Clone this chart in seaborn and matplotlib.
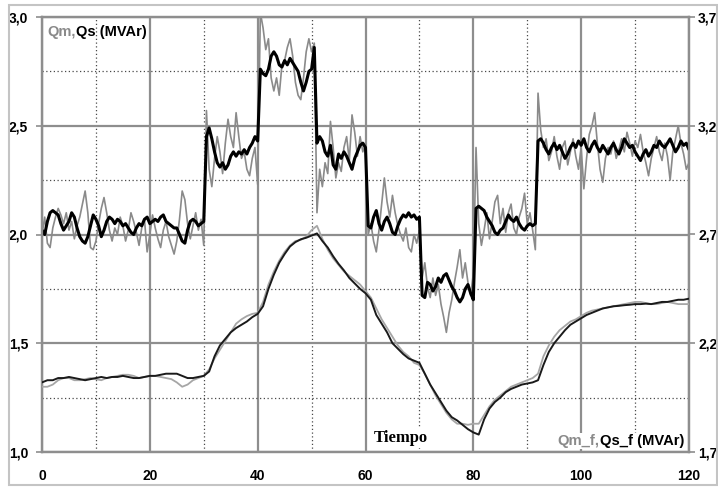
import numpy as np
import pandas as pd
import matplotlib
matplotlib.use("Agg")
import matplotlib.pyplot as plt
from matplotlib.patches import Rectangle
import seaborn as sns

# ---- data -------------------------------------------------------------
# fast signals sampled every 0.5 s (left axis, MVAr)
t_fast = np.arange(0, 120.5, 0.5)

qs = [
    2.02, 2.00, 2.06, 2.10, 2.11, 2.10, 2.09, 2.05, 2.02, 2.04,
    2.06, 2.10, 2.08, 2.03, 1.99, 1.97, 1.96, 1.99, 2.04, 2.09,
    2.07, 2.04, 1.99, 2.02, 2.06, 2.08, 2.07, 2.05, 2.07, 2.06,
    2.04, 2.05, 2.03, 2.01, 2.00, 2.03, 2.05, 2.04, 2.07, 2.08,
    2.05, 2.06, 2.07, 2.06, 2.08, 2.09, 2.06, 2.05, 2.04, 2.03,
    2.03, 2.00, 1.97, 1.96, 2.02, 2.06, 2.07, 2.06, 2.04, 2.05,
    2.06,
    2.45, 2.49, 2.44, 2.38, 2.33, 2.31, 2.33, 2.30, 2.32, 2.36,
    2.38, 2.36, 2.38, 2.37, 2.39, 2.37, 2.40, 2.42, 2.45, 2.43,
    2.76, 2.74, 2.73, 2.76, 2.82, 2.84, 2.82, 2.78, 2.77, 2.80,
    2.78, 2.81, 2.79, 2.77, 2.75, 2.70, 2.66, 2.70, 2.75, 2.76,
    2.86,
    2.42, 2.45, 2.43, 2.38, 2.36, 2.41, 2.32, 2.30, 2.37, 2.35,
    2.38, 2.36, 2.33, 2.30, 2.35, 2.38, 2.41, 2.42, 2.40,
    2.04, 2.03, 2.08, 2.11, 2.05, 2.02, 2.06, 2.08, 2.05, 2.01,
    2.00, 2.04, 2.07, 2.09, 2.08, 2.10, 2.08, 2.09, 2.07, 2.08,
    1.72, 1.71, 1.78, 1.77, 1.74, 1.76, 1.80, 1.78, 1.81, 1.82,
    1.79, 1.76, 1.74, 1.71, 1.69, 1.71, 1.75, 1.77, 1.73, 1.70,
    2.12, 2.13, 2.12, 2.11, 2.08, 2.06, 2.04, 2.01, 2.00, 2.02,
    2.03, 2.06, 2.09, 2.07, 2.06, 2.08, 2.05, 2.03, 2.02, 2.04,
    2.05, 2.04, 2.05,
    2.43, 2.44, 2.42, 2.39, 2.37, 2.40, 2.42, 2.39, 2.41, 2.38,
    2.35, 2.37, 2.40, 2.42, 2.40, 2.43, 2.41, 2.44, 2.40, 2.38,
    2.41, 2.43, 2.40, 2.38, 2.41, 2.39, 2.37, 2.40, 2.42, 2.39,
    2.37, 2.40, 2.44, 2.42, 2.40, 2.41, 2.38, 2.36, 2.34, 2.37,
    2.39, 2.36, 2.38, 2.41, 2.40, 2.43, 2.41, 2.40, 2.42, 2.44,
    2.41, 2.38, 2.40, 2.43, 2.41, 2.42, 2.39,
]

qm = [
    2.00, 2.08, 1.96, 1.94, 2.03, 2.08, 2.12, 2.09, 2.05, 2.10,
    2.02, 2.06, 1.98, 2.04, 2.08, 2.14, 2.20, 2.10, 1.94, 1.93,
    1.97, 2.05, 2.12, 2.17, 2.10, 2.02, 1.97, 2.03, 2.00, 2.08,
    2.04, 1.97, 2.02, 2.10, 2.06, 2.01, 1.95, 2.03, 2.07, 1.92,
    2.00, 2.09, 2.03, 1.98, 1.94, 2.02, 2.06, 1.99, 1.95, 1.91,
    1.97, 2.07, 2.20, 2.16, 2.05, 1.98, 2.04, 2.10, 2.02, 2.07,
    1.95,
    2.57, 2.30, 2.22, 2.35, 2.45, 2.38, 2.28, 2.42, 2.53, 2.45,
    2.40, 2.56, 2.45, 2.35, 2.38, 2.30, 2.27, 2.35, 2.40, 2.23,
    3.02, 2.95, 2.85, 2.90, 2.72, 2.66, 2.72, 2.64, 2.78, 2.80,
    2.86, 2.90, 2.82, 2.70, 2.64, 2.62, 2.72, 2.84, 2.90, 2.84,
    2.88,
    2.10, 2.30, 2.22, 2.33, 2.28, 2.52, 2.40, 2.26, 2.33, 2.29,
    2.40, 2.45, 2.34, 2.55, 2.47, 2.36, 2.45, 2.38, 2.42,
    2.00, 2.05, 1.97, 1.92, 2.02, 2.14, 2.26, 2.15, 2.08, 2.18,
    2.10, 2.04, 2.00, 1.97, 2.03, 1.94, 1.92, 2.00, 1.96, 2.02,
    1.80, 1.87, 1.76, 1.71, 1.80, 1.72, 1.77, 1.68, 1.62, 1.55,
    1.64, 1.70, 1.78, 1.85, 1.93, 1.80, 1.87, 1.78, 1.72, 1.82,
    2.40, 2.05, 1.95, 2.02, 2.10, 1.98, 2.06, 2.15, 2.18, 2.05,
    2.12, 2.01, 2.10, 2.14, 2.03, 2.00, 2.08, 2.12, 2.19, 2.05,
    2.10, 2.02, 1.93,
    2.65, 2.48, 2.40, 2.44, 2.34, 2.38, 2.45, 2.36, 2.30, 2.40,
    2.43, 2.32, 2.38, 2.44, 2.36, 2.30, 2.40, 2.21, 2.35, 2.46,
    2.50, 2.56, 2.42, 2.30, 2.24, 2.35, 2.40, 2.37, 2.43, 2.35,
    2.39, 2.44, 2.38, 2.47, 2.42, 2.36, 2.43, 2.40, 2.46, 2.38,
    2.33, 2.27, 2.35, 2.40, 2.45, 2.38, 2.34, 2.42, 2.36, 2.25,
    2.38, 2.44, 2.50, 2.42, 2.37, 2.30, 2.33,
]

# filtered signals sampled every 1 s (right axis, MVAr)
t_slow = np.arange(0, 121, 1)

qs_f = [
    2.02, 2.03, 2.03, 2.04, 2.04, 2.045, 2.04, 2.035, 2.03, 2.035,
    2.04, 2.045, 2.04, 2.045, 2.045, 2.05, 2.045, 2.04, 2.04, 2.045,
    2.05, 2.05, 2.055, 2.06, 2.06, 2.06, 2.05, 2.04, 2.04, 2.045,
    2.05, 2.07, 2.14, 2.19, 2.22, 2.25, 2.27, 2.285, 2.30, 2.32,
    2.335, 2.37, 2.45, 2.515, 2.57, 2.61, 2.645, 2.665, 2.678, 2.685,
    2.695, 2.705, 2.67, 2.64, 2.60, 2.565, 2.535, 2.50, 2.475, 2.45,
    2.43, 2.40, 2.33, 2.29, 2.25, 2.20, 2.175, 2.15, 2.13, 2.12,
    2.11, 2.06, 2.01, 1.97, 1.93, 1.89, 1.86, 1.845, 1.825, 1.805,
    1.79, 1.78, 1.85, 1.90, 1.93, 1.95, 1.975, 1.99, 2.00, 2.01,
    2.015, 2.02, 2.03, 2.10, 2.16, 2.20, 2.23, 2.26, 2.285, 2.30,
    2.315, 2.33, 2.34, 2.35, 2.36, 2.365, 2.37, 2.372, 2.375, 2.377,
    2.38, 2.38, 2.382, 2.38, 2.385, 2.39, 2.39, 2.395, 2.40, 2.40,
    2.405,
]

qm_f = [
    2.00, 2.00, 2.01, 2.03, 2.04, 2.04, 2.03, 2.03, 2.035, 2.04,
    2.035, 2.03, 2.04, 2.045, 2.05, 2.055, 2.055, 2.05, 2.04, 2.045,
    2.05, 2.05, 2.045, 2.04, 2.035, 2.02, 2.00, 2.01, 2.03, 2.04,
    2.05, 2.08, 2.13, 2.17, 2.21, 2.25, 2.29, 2.31, 2.325, 2.335,
    2.34, 2.39, 2.47, 2.53, 2.58, 2.62, 2.65, 2.67, 2.675, 2.69,
    2.72, 2.74, 2.68, 2.63, 2.59, 2.56, 2.53, 2.51, 2.49, 2.47,
    2.44, 2.41, 2.36, 2.31, 2.27, 2.23, 2.19, 2.16, 2.14, 2.11,
    2.10, 2.06, 2.01, 1.96, 1.92, 1.88, 1.85, 1.83, 1.83, 1.825,
    1.83, 1.83, 1.87, 1.91, 1.94, 1.96, 1.98, 2.00, 2.01, 2.02,
    2.03, 2.04, 2.06, 2.14, 2.19, 2.23, 2.26, 2.28, 2.30, 2.31,
    2.325, 2.34, 2.35, 2.355, 2.36, 2.365, 2.37, 2.375, 2.38, 2.385,
    2.39, 2.39, 2.385, 2.38, 2.38, 2.385, 2.39, 2.385, 2.38, 2.38,
    2.38,
]

x_ticks = [0, 20, 40, 60, 80, 100, 120]
x_minor = [10, 30, 50, 70, 90, 110]
y_left_ticks = [1.0, 1.5, 2.0, 2.5, 3.0]
y_left_labels = ["1,0", "1,5", "2,0", "2,5", "3,0"]
y_left_minor = [1.25, 1.75, 2.25, 2.75]
y_right_ticks = [1.7, 2.2, 2.7, 3.2, 3.7]
y_right_labels = ["1,7", "2,2", "2,7", "3,2", "3,7"]

fast = pd.DataFrame({"t": t_fast, "Qm": qm, "Qs": qs})
slow = pd.DataFrame({"t": t_slow, "Qm_f": qm_f, "Qs_f": qs_f})

# ---- style ------------------------------------------------------------
sns.set_style("white")
plt.rcParams["font.family"] = ["Liberation Sans", "DejaVu Sans"]

GRID = "#8e8e8e"
DOT = "#4a4a4a"

fig = plt.figure(figsize=(7.18, 4.87), dpi=100)
fig.patch.set_facecolor("white")
ax = fig.add_axes([42 / 718, 1 - 452 / 487, (689 - 42) / 718, (452 - 17) / 487])
ax2 = ax.twinx()

# upper group: measured and simulated reactive power
sns.lineplot(data=fast, x="t", y="Qm", ax=ax, color="#8a8a8a", lw=1.2,
             estimator=None, sort=False, zorder=3)
sns.lineplot(data=fast, x="t", y="Qs", ax=ax, color="black", lw=2.2,
             estimator=None, sort=False, zorder=4)

# lower group: filtered signals on the right axis
sns.lineplot(data=slow, x="t", y="Qm_f", ax=ax2, color="#a6a6a6", lw=1.3,
             estimator=None, sort=False, zorder=3)
sns.lineplot(data=slow, x="t", y="Qs_f", ax=ax2, color="#1a1a1a", lw=1.4,
             estimator=None, sort=False, zorder=4)

ax.set_xlim(0, 120)
ax.set_ylim(1.0, 3.0)
ax2.set_ylim(1.7, 3.7)

ax.set_xticks(x_ticks)
ax.set_xticks(x_minor, minor=True)
ax.set_yticks(y_left_ticks)
ax.set_yticklabels(y_left_labels)
ax.set_yticks(y_left_minor, minor=True)
ax2.set_yticks(y_right_ticks)
ax2.set_yticklabels(y_right_labels)

ax.grid(True, which="major", color=GRID, lw=1.6, ls="-")
ax.grid(True, which="minor", color=DOT, lw=0.9, ls=(0, (1, 2)))
ax.set_axisbelow(True)

for a in (ax, ax2):
    a.set_xlabel("")
    a.set_ylabel("")
    for s in a.spines.values():
        s.set_color(GRID)
        s.set_linewidth(1.6)

ax.tick_params(axis="both", which="major", direction="out", length=4,
               width=1.2, color=GRID, labelsize=10, labelcolor="black")
ax.tick_params(axis="x", which="major", pad=8)
ax.tick_params(axis="y", which="major", pad=6)
ax.tick_params(axis="both", which="minor", length=0)
ax2.tick_params(axis="y", which="major", direction="out", length=4,
                width=1.2, color=GRID, labelsize=10, labelcolor="black", pad=2.5)
for lab in ax.get_xticklabels() + ax.get_yticklabels() + ax2.get_yticklabels():
    lab.set_fontweight("bold")

# series labels
t1 = fig.text(47 / 718, 1 - 36 / 487, "Qm,", color="#8a8a8a",
              fontsize=10.5, fontweight="bold", va="baseline", ha="left")
ax.annotate("Qs (MVAr)", xy=(1, 0), xycoords=t1, va="bottom", ha="left",
            color="black", fontsize=10.5, fontweight="bold")

t2 = fig.text(684 / 718, 1 - 445 / 487, "Qs_f (MVAr)", color="black",
              fontsize=10.6, fontweight="bold", va="baseline", ha="right",
              bbox=dict(facecolor="white", edgecolor="none", pad=1.0))
ax.annotate("Qm_f,", xy=(0, 0), xycoords=t2, va="bottom", ha="right",
            color="#8a8a8a", fontsize=10.6, fontweight="bold",
            bbox=dict(facecolor="white", edgecolor="none", pad=1.0))

fig.text(401 / 718, 1 - 438 / 487, "Tiempo", family=["Liberation Serif", "DejaVu Serif"],
         fontsize=12, fontweight="bold", ha="center", va="center", color="black",
         bbox=dict(facecolor="white", edgecolor="none", pad=1.5))

# light frame around the whole chart
fig.patches.append(Rectangle((9 / 718, 2 / 487), (717 - 9) / 718, (482 - 2) / 487,
                             transform=fig.transFigure, fill=False,
                             edgecolor="#c4c4c4", lw=1.5))

fig.savefig("out.png", dpi=100)
